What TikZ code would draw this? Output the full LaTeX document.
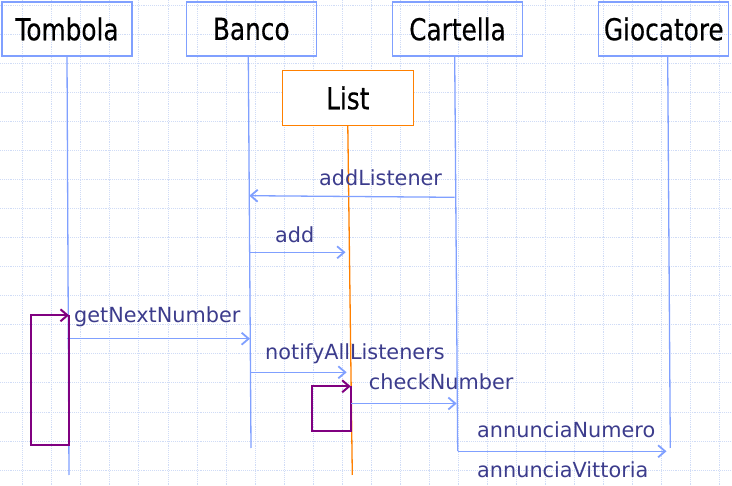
\documentclass[tikz,border=0pt]{standalone}
\usepackage{fontspec}
\setmainfont{DejaVu Sans}
\newfontfamily\headfont[FakeStretch=0.82,FakeBold=0.4]{DejaVu Sans}
\usetikzlibrary{arrows.meta}
\definecolor{lineblue}{RGB}{128,160,255}
\definecolor{labelblue}{RGB}{60,60,140}
\definecolor{callpurple}{RGB}{128,0,128}
\definecolor{listorange}{RGB}{255,128,0}
\definecolor{gridblue}{RGB}{208,220,246}
\begin{document}
\begin{tikzpicture}[x=1pt, y=-1pt,
        obj/.style={draw=lineblue, line width=1.3pt, minimum width=130pt, minimum height=54pt, inner sep=0pt, font=\headfont\fontsize{30.2}{32}\selectfont},
        life/.style={lineblue, line width=1.3pt},
        msg/.style={lineblue, line width=1.3pt, -{Straight Barb[length=7pt,width=12pt,line width=1.8pt]}},
        selfcall/.style={callpurple, line width=1.7pt, -{Straight Barb[length=7pt,width=12pt,line width=2pt]}},
        lbl/.style={anchor=base west, inner sep=0pt, text=labelblue, font=\fontsize{20.8}{22}\selectfont}]
    \useasboundingbox (0,0) rectangle (732,486);
    % background grid
    \foreach \i in {0,...,24} \draw[gridblue, densely dotted, line width=0.9pt] ({22.7+29.05*\i},0) -- ({22.7+29.05*\i},486);
    \foreach \i in {0,...,16} \draw[gridblue, densely dotted, line width=0.9pt] (0,{5.3+29.05*\i}) -- (732,{5.3+29.05*\i});

    \node[obj] (tombola) at (67,29) {Tombola};
    \node[obj] (banco) at (251.3,29) {Banco};
    \node[obj] (cartella) at (457.5,29) {Cartella};
    \node[obj] (giocatore) at (663.8,29) {Giocatore};
    \node[obj, draw=listorange, minimum width=131pt, minimum height=55pt, fill=white] (list) at (347.8,98) {List};

    % lifelines
    \coordinate (tombolaEnd) at (69,475);
    \coordinate (bancoTop) at (248.3,56);
    \coordinate (bancoEnd) at (251,448);
    \coordinate (listEnd) at (352.3,475);
    \coordinate (cartellaTop) at (454.7,56);
    \coordinate (cartellaEnd) at (457.7,451);
    \coordinate (giocatoreTop) at (667.7,56);
    \coordinate (giocatoreEnd) at (670.3,448);
    \draw[life] (tombola.south) -- (tombolaEnd);
    \draw[life] (bancoTop) -- (bancoEnd);
    \draw[listorange, line width=1.3pt] (list.south) -- (listEnd);
    \draw[life] (cartellaTop) -- (cartellaEnd);
    \draw[life] (giocatoreTop) -- (giocatoreEnd);

    % messages
    \coordinate (c1) at (454.7,197.3);
    \coordinate (b1) at (249.3,195.7);
    \draw[msg] (c1) -- (b1);
    \node[lbl] (addListener) at (319,185.5) {addListener};

    \coordinate (b2) at (249,252.3);
    \coordinate (l2) at (345.5,252.3);
    \draw[msg] (b2) -- (l2);
    \node[lbl] (add) at (275,242.5) {add};

    \coordinate (t3) at (66.7,338.7);
    \coordinate (b3) at (250,338.7);
    \draw[msg] (t3) -- (b3);
    \node[lbl] (getNextNumber) at (74,322.3) {getNextNumber};

    \coordinate (tomTR) at (69,315.3);
    \coordinate (tomBR) at (69,445);
    \coordinate (tomBL) at (30.7,445);
    \coordinate (tomTL) at (30.7,315.3);
    \draw[selfcall] (tomTR) -- (tomBR) -- (tomBL) -- (tomTL) -- (tomTR);

    \coordinate (b4) at (250.7,372.3);
    \coordinate (l4) at (346.7,372.3);
    \draw[msg] (b4) -- (l4);
    \node[lbl] (notifyAllListeners) at (265,360) {notifyAllListeners};

    \coordinate (listTR) at (350.7,386.3);
    \coordinate (listBR) at (350.7,431.3);
    \coordinate (listBL) at (311.7,431.3);
    \coordinate (listTL) at (311.7,386.3);
    \draw[selfcall] (listTR) -- (listBR) -- (listBL) -- (listTL) -- (listTR);

    \coordinate (l5) at (351.3,403.5);
    \coordinate (c5) at (456.7,403.5);
    \draw[msg] (l5) -- (c5);
    \node[lbl] (checkNumber) at (368.7,389.7) {checkNumber};

    \coordinate (c6) at (457.7,451.3);
    \coordinate (g6) at (666.5,451.3);
    \draw[msg] (c6) -- (g6);
    \node[lbl] (annunciaNumero) at (477,438) {annunciaNumero};
    \node[lbl] (annunciaVittoria) at (477,478) {annunciaVittoria};
\end{tikzpicture}
\end{document}
